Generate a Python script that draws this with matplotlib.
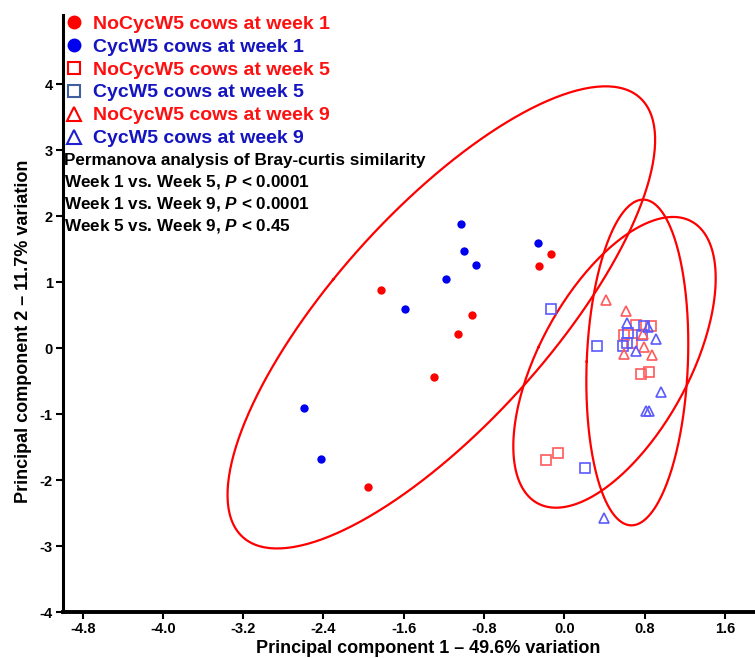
import numpy as np
import matplotlib
matplotlib.use("Agg")
import matplotlib.pyplot as plt
from matplotlib.lines import Line2D

plt.rcParams['font.family'] = ['Liberation Sans', 'DejaVu Sans']
plt.rcParams['font.weight'] = 'bold'
plt.rcParams['mathtext.fontset'] = 'custom'
plt.rcParams['mathtext.rm'] = 'Liberation Sans:bold'
plt.rcParams['mathtext.it'] = 'Liberation Sans:italic:bold'

# ------------------------------------------------------------
# PCA scores
# ------------------------------------------------------------
# week 1 (filled circles)
nocyc_w1_x = [-0.129, -0.254, -1.825, -0.920, -1.057, -1.296, -1.961]
nocyc_w1_y = [1.424, 1.242, 0.874, 0.505, 0.212, -0.435, -2.106]
cyc_w1_x = [-1.027, -1.000, -0.877, -1.180, -1.589, -2.590, -2.424, -0.258]
cyc_w1_y = [1.883, 1.480, 1.262, 1.045, 0.586, -0.905, -1.677, 1.600]

# week 5 (open squares)
nocyc_w5_x = [0.710, 0.863, 0.590, 0.674, 0.759, 0.843, -0.185, -0.065]
nocyc_w5_y = [0.353, 0.333, 0.202, 0.076, -0.394, -0.368, -1.692, -1.595]
cyc_w5_x = [-0.132, 0.324, 0.634, 0.769, 0.796, 0.587, 0.624, 0.208]
cyc_w5_y = [0.586, 0.026, 0.232, 0.192, 0.329, 0.026, 0.071, -1.818]

# week 9 (open triangles)
nocyc_w9_x = [0.414, 0.617, 0.779, 0.789, 0.597, 0.876]
nocyc_w9_y = [0.727, 0.565, 0.212, 0.020, -0.091, -0.100]
cyc_w9_x = [0.620, 0.833, 0.916, 0.717, 0.963, 0.813, 0.846, 0.400]
cyc_w9_y = [0.383, 0.314, 0.132, -0.045, -0.671, -0.959, -0.959, -2.571]

legend_labels = ['NoCycW5 cows at week 1', 'CycW5 cows at week 1',
                 'NoCycW5 cows at week 5', 'CycW5 cows at week 5',
                 'NoCycW5 cows at week 9', 'CycW5 cows at week 9']

stats_lines = ['Permanova analysis of Bray-curtis similarity',
               r'Week 1 vs. Week 5, $P$ < 0.0001',
               r'Week 1 vs. Week 9, $P$ < 0.0001',
               r'Week 5 vs. Week 9, $P$ < 0.45']

xticks = [-4.8, -4.0, -3.2, -2.4, -1.6, -0.8, 0.0, 0.8, 1.6]
yticks = [-4, -3, -2, -1, 0, 1, 2, 3, 4]

RED = '#FF0000'
BLUE = '#0000F0'
RED_TXT = '#FF1010'
BLUE_TXT = '#1414C0'
RED_OPEN = '#FF5A5A'
BLUE_OPEN = '#5A5AFF'


def conf_ellipse(x, y, level=0.95, npts=300):
    # Hotelling-type 95% ellipse around the group
    x = np.asarray(x); y = np.asarray(y)
    n = len(x)
    m = n - 2
    f = m / 2.0 * ((1.0 - level) ** (-2.0 / m) - 1.0)   # F(2, n-2) quantile
    k2 = 2.0 * (n - 1) / (n - 2) * f
    cov = np.cov(x, y)
    vals, vecs = np.linalg.eigh(cov)
    t = np.linspace(0, 2 * np.pi, npts)
    circ = np.vstack([np.cos(t), np.sin(t)])
    pts = vecs @ (np.sqrt(vals * k2)[:, None] * circ)
    return x.mean() + pts[0], y.mean() + pts[1]


fig = plt.figure(figsize=(7.55, 6.58), dpi=100)
ax = fig.add_axes([0.0829, 0.0699, 0.9171, 0.9073])

# ellipses
for gx, gy in [(nocyc_w1_x + cyc_w1_x, nocyc_w1_y + cyc_w1_y),
               (nocyc_w5_x + cyc_w5_x, nocyc_w5_y + cyc_w5_y),
               (nocyc_w9_x + cyc_w9_x, nocyc_w9_y + cyc_w9_y)]:
    ex, ey = conf_ellipse(gx, gy)
    ax.plot(ex, ey, color=RED, lw=1.6, zorder=2)

# points
ax.plot(nocyc_w1_x, nocyc_w1_y, 'o', color=RED, ms=6, mec='none', zorder=3)
ax.plot(cyc_w1_x, cyc_w1_y, 'o', color=BLUE, ms=6, mec='none', zorder=3)
ax.plot(nocyc_w5_x, nocyc_w5_y, 's', mfc='none', mec=RED_OPEN, ms=7, mew=1.2, zorder=3)
ax.plot(cyc_w5_x, cyc_w5_y, 's', mfc='none', mec=BLUE_OPEN, ms=7, mew=1.2, zorder=3)
ax.plot(nocyc_w9_x, nocyc_w9_y, '^', mfc='none', mec=RED_OPEN, ms=7, mew=1.2, zorder=3)
ax.plot(cyc_w9_x, cyc_w9_y, '^', mfc='none', mec=BLUE_OPEN, ms=7, mew=1.2, zorder=3)

# legend
handles = [
    Line2D([], [], ls='none', marker='o', color=RED, ms=10, mec='none'),
    Line2D([], [], ls='none', marker='o', color=BLUE, ms=10, mec='none'),
    Line2D([], [], ls='none', marker='s', mfc='none', mec=RED, ms=8.5, mew=1.5),
    Line2D([], [], ls='none', marker='s', mfc='none', mec='#3F5F9F', ms=8.5, mew=1.5),
    Line2D([], [], ls='none', marker='^', mfc='none', mec=RED, ms=10, mew=1.5),
    Line2D([], [], ls='none', marker='^', mfc='none', mec='#2020D0', ms=10, mew=1.5),
]
ax.legend(handles, legend_labels, loc='upper left', bbox_to_anchor=(0.002, 1.0),
          frameon=False, prop={'weight': 'bold', 'size': 14},
          labelcolor=[RED_TXT, BLUE_TXT, RED_TXT, BLUE_TXT, RED_TXT, BLUE_TXT],
          handlelength=1.0, handletextpad=0.5, labelspacing=0.275,
          borderpad=0, borderaxespad=0)

# permanova text
y0 = 1 - 160 / 658
for i, line in enumerate(stats_lines):
    fig.text(64 / 755, y0 - i * 22 / 658, line, fontsize=12.3, fontweight='bold',
             va='center', ha='left', color='black')

ax.set_xlim(-5.0, 1.9)
ax.set_ylim(-4.0, 5.05)
ax.set_xticks(xticks)
ax.set_xticklabels([f'{v:.1f}' for v in xticks])
ax.set_yticks(yticks)
ax.set_yticklabels([str(v) for v in yticks])
for lab in ax.get_xticklabels() + ax.get_yticklabels():
    lab.set_fontweight('bold')
    lab.set_fontsize(10.5)

ax.spines['top'].set_visible(False)
ax.spines['right'].set_visible(False)
ax.spines['left'].set_linewidth(2.2)
ax.spines['bottom'].set_linewidth(2.8)
ax.tick_params(axis='both', direction='out', length=5, width=1.5, pad=2)

ax.set_xlabel('Principal component 1 \u2013 49.6% variation', fontsize=13,
              fontweight='bold')
ax.xaxis.set_label_coords(0.528, -0.047)
ax.set_ylabel('Principal component 2 \u2013 11.7% variation', fontsize=13,
              fontweight='bold')
ax.yaxis.set_label_coords(-0.044, 0.47)

fig.savefig('out.png', dpi=100)
